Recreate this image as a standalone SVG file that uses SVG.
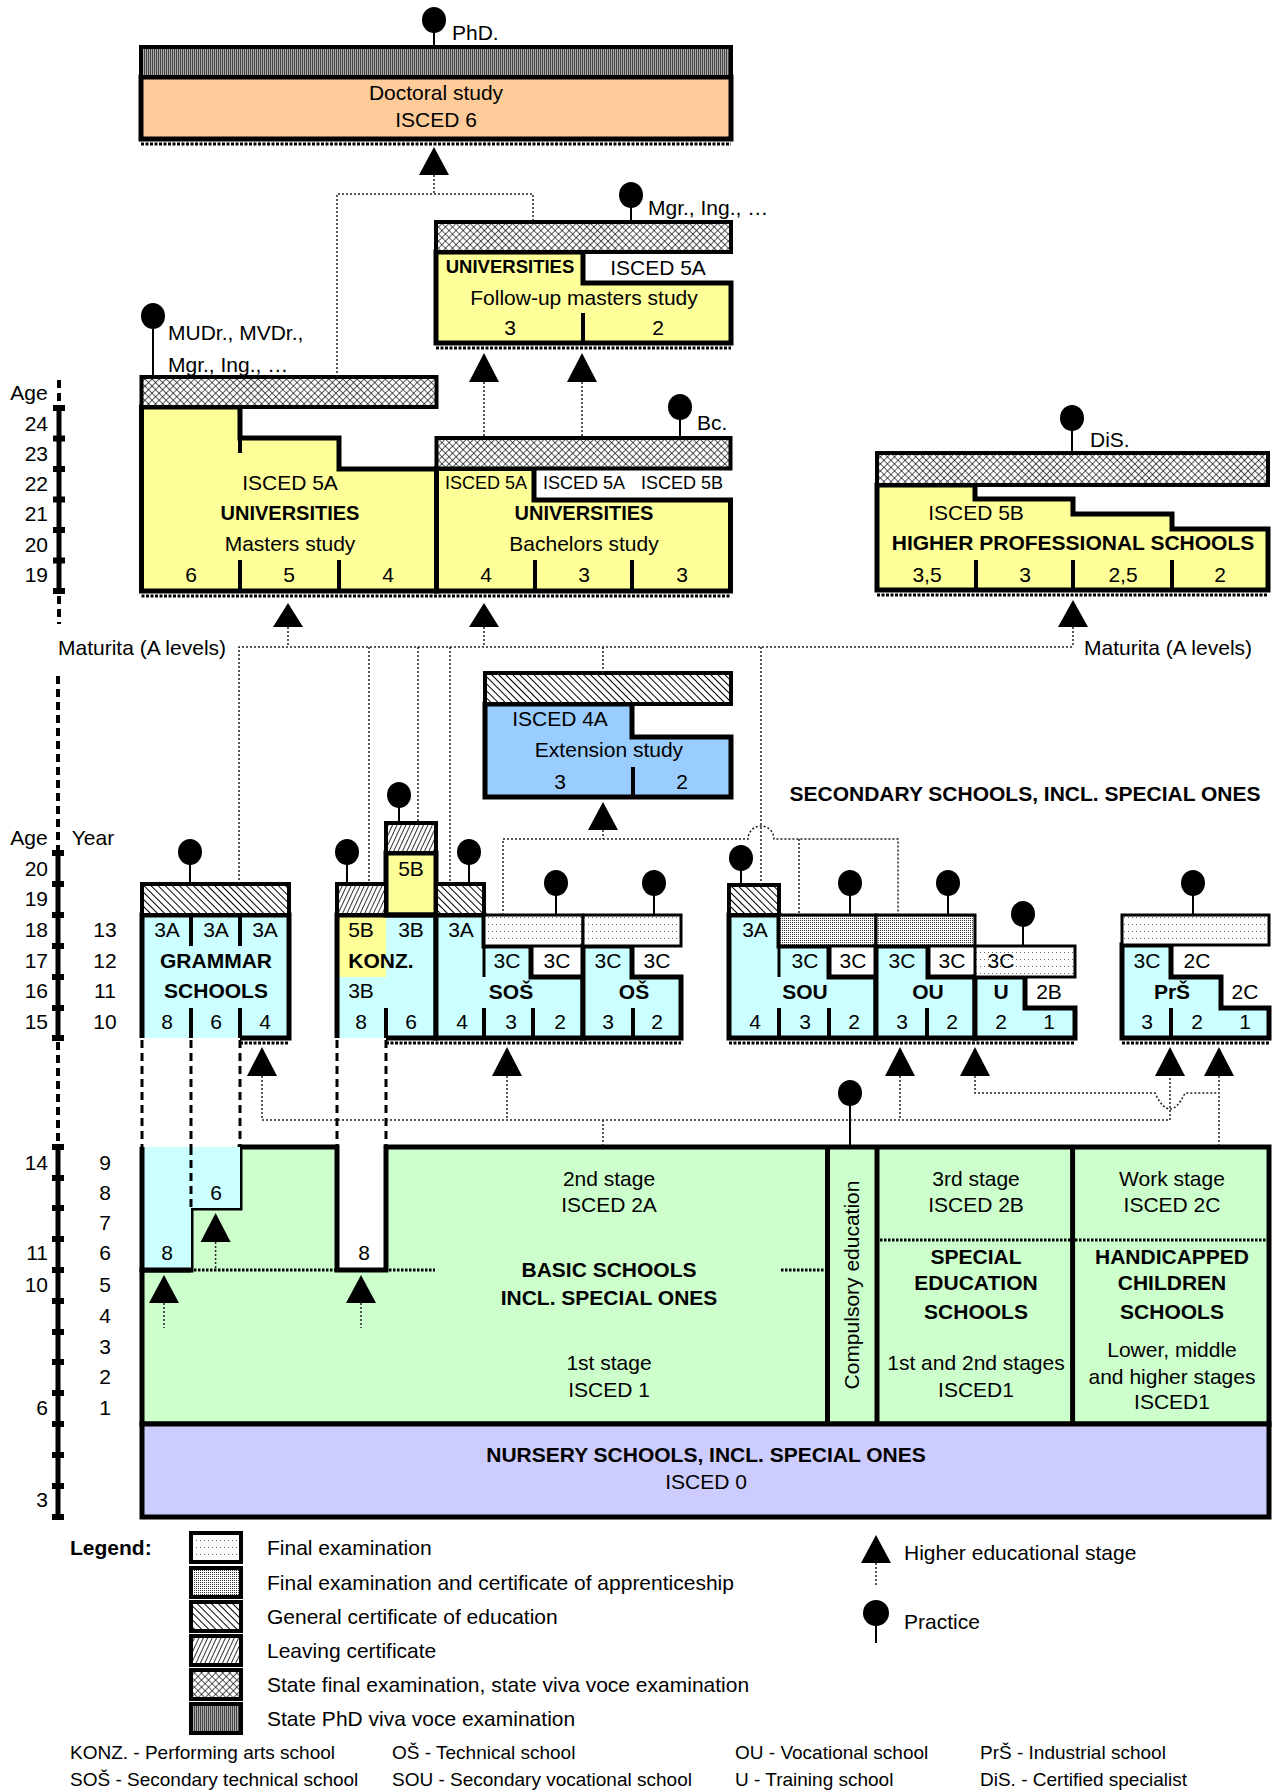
<svg xmlns="http://www.w3.org/2000/svg" width="1276" height="1791" viewBox="0 0 1276 1791">
<style>
.t{font-family:"Liberation Sans",Arial,sans-serif;font-size:21px;text-anchor:middle;fill:#000}
.s{text-anchor:start}
.e{text-anchor:end}
.b{font-weight:bold}
.sm{font-size:18px}
.ab{font-size:19px;text-anchor:start}
.box{stroke:#000;stroke-width:5;stroke-linejoin:miter}
.ol{stroke:#000;stroke-width:5;fill:none;stroke-linejoin:miter}
.hat{stroke:#000;stroke-width:4}
.ex{stroke:#000;stroke-width:3}
.dv{stroke:#000;stroke-width:4}
.dv3{stroke:#000;stroke-width:3}
.sh{stroke:#000;stroke-width:3;stroke-dasharray:3 1.5}
.dash{stroke:#000;stroke-width:3;stroke-dasharray:8 5;fill:none}
.bnd{stroke:#000;stroke-width:3;stroke-dasharray:2.5 1.5;fill:none}
.con{stroke:#222;stroke-width:1.5;stroke-dasharray:2 2;fill:none}
.stalk{stroke:#000;stroke-width:2}
.axis{stroke:#000;stroke-width:5}
.axd{stroke:#000;stroke-width:4;stroke-dasharray:8 5}
</style>
<defs>
<pattern id="pFinal" width="4" height="7" patternUnits="userSpaceOnUse"><rect width="4" height="7" fill="#fff"/><rect width="1" height="1" fill="#666"/></pattern>
<pattern id="pAppr" width="2" height="2" patternUnits="userSpaceOnUse"><rect width="2" height="2" fill="#fff"/><rect width="1" height="1" fill="#333"/></pattern>
<pattern id="pGen" width="5" height="5" patternUnits="userSpaceOnUse" patternTransform="rotate(-45)"><rect width="5" height="5" fill="#fff"/><line x1="0" y1="0" x2="0" y2="5" stroke="#000" stroke-width="2"/></pattern>
<pattern id="pLeave" width="4" height="4" patternUnits="userSpaceOnUse" patternTransform="rotate(25)"><rect width="4" height="4" fill="#fff"/><line x1="0" y1="0" x2="0" y2="4" stroke="#000" stroke-width="1.6"/></pattern>
<pattern id="pState" width="5" height="5" patternUnits="userSpaceOnUse" patternTransform="rotate(45)"><rect width="5" height="5" fill="#fff"/><line x1="0" y1="0" x2="0" y2="5" stroke="#000" stroke-width="1.3"/><line x1="0" y1="0" x2="5" y2="0" stroke="#000" stroke-width="1.3"/></pattern>
<pattern id="pPhd" width="2" height="2" patternUnits="userSpaceOnUse"><rect width="2" height="2" fill="#aaa"/><rect width="1" height="2" fill="#444"/></pattern>
</defs>
<rect width="1276" height="1791" fill="#fff"/>

<!-- axes -->
<g id="axes">
<text class="t" x="29" y="400">Age</text>
<line class="axd" x1="59" y1="380" x2="59" y2="405"/>
<line class="axis" x1="59" y1="408" x2="59" y2="591"/>
<line class="axd" x1="59" y1="596" x2="59" y2="624"/>
<g fill="#000"><rect x="53" y="405" width="12" height="6"/><rect x="53" y="435.5" width="12" height="6"/><rect x="53" y="466" width="12" height="6"/><rect x="53" y="496.5" width="12" height="6"/><rect x="53" y="527" width="12" height="6"/><rect x="53" y="557.5" width="12" height="6"/><rect x="53" y="588" width="12" height="6"/></g>
<text class="t e" x="48" y="431">24</text><text class="t e" x="48" y="461">23</text><text class="t e" x="48" y="491">22</text><text class="t e" x="48" y="521">21</text><text class="t e" x="48" y="552">20</text><text class="t e" x="48" y="582">19</text>

<text class="t" x="29" y="845">Age</text>
<text class="t" x="93" y="845">Year</text>
<line class="axd" x1="58" y1="676" x2="58" y2="850"/>
<line class="axis" x1="58" y1="853" x2="58" y2="1038"/>
<line class="axd" x1="58" y1="1042" x2="58" y2="1145"/>
<g fill="#000"><rect x="52" y="850" width="12" height="6"/><rect x="52" y="881" width="12" height="6"/><rect x="52" y="912" width="12" height="6"/><rect x="52" y="943" width="12" height="6"/><rect x="52" y="974" width="12" height="6"/><rect x="52" y="1005" width="12" height="6"/><rect x="52" y="1035" width="12" height="6"/></g>
<text class="t e" x="48" y="876">20</text><text class="t e" x="48" y="906">19</text><text class="t e" x="48" y="937">18</text><text class="t e" x="48" y="968">17</text><text class="t e" x="48" y="998">16</text><text class="t e" x="48" y="1029">15</text>
<text class="t" x="105" y="937">13</text><text class="t" x="105" y="968">12</text><text class="t" x="105" y="998">11</text><text class="t" x="105" y="1029">10</text>

<line class="axis" x1="58" y1="1147" x2="58" y2="1517"/>
<g fill="#000"><rect x="52" y="1144" width="12" height="6"/><rect x="52" y="1175" width="12" height="6"/><rect x="52" y="1205" width="12" height="6"/><rect x="52" y="1236" width="12" height="6"/><rect x="52" y="1267" width="12" height="6"/><rect x="52" y="1298" width="12" height="6"/><rect x="52" y="1329" width="12" height="6"/><rect x="52" y="1359" width="12" height="6"/><rect x="52" y="1390" width="12" height="6"/><rect x="52" y="1421" width="12" height="6"/><rect x="52" y="1452" width="12" height="6"/><rect x="52" y="1483" width="12" height="6"/><rect x="52" y="1514" width="12" height="6"/></g>
<text class="t e" x="48" y="1170">14</text><text class="t e" x="48" y="1260">11</text><text class="t e" x="48" y="1292">10</text><text class="t e" x="48" y="1415">6</text><text class="t e" x="48" y="1507">3</text>
<text class="t" x="105" y="1170">9</text><text class="t" x="105" y="1200">8</text><text class="t" x="105" y="1230">7</text><text class="t" x="105" y="1260">6</text><text class="t" x="105" y="1292">5</text><text class="t" x="105" y="1323">4</text><text class="t" x="105" y="1354">3</text><text class="t" x="105" y="1384">2</text><text class="t" x="105" y="1415">1</text>
</g>

<!-- doctoral -->
<g id="doctoral">
<rect x="141" y="77" width="590" height="62" fill="#FFCC99" class="box"/>
<rect x="141" y="47" width="590" height="30" fill="url(#pPhd)" class="hat"/>
<line class="sh" x1="141" y1="144" x2="731" y2="144"/>
<text class="t" x="436" y="100">Doctoral study</text>
<text class="t" x="436" y="127">ISCED 6</text>
<ellipse cx="434" cy="20" rx="12" ry="13"/>
<line class="stalk" x1="434" y1="30" x2="434" y2="47"/>
<text class="t s" x="452" y="40">PhD.</text>
</g>

<!-- follow-up masters -->
<g id="followup">
<path d="M436,252 H583 V283 H731 V343 H436 Z" fill="#FFFF99" class="box"/>
<rect x="436" y="222" width="295" height="30" fill="url(#pState)" class="hat"/>
<line class="dv" x1="583" y1="313" x2="583" y2="343"/>
<line class="sh" x1="436" y1="348" x2="731" y2="348"/>
<text class="t b" style="font-size:18.5px" x="510" y="273">UNIVERSITIES</text>
<text class="t" x="658" y="275">ISCED 5A</text>
<text class="t" x="584" y="305">Follow-up masters study</text>
<text class="t" x="510" y="335">3</text>
<text class="t" x="658" y="335">2</text>
<ellipse cx="631" cy="195" rx="12" ry="13"/>
<line class="stalk" x1="631" y1="205" x2="631" y2="222"/>
<text class="t s" x="648" y="215">Mgr., Ing., …</text>
</g>

<!-- masters -->
<g id="masters">
<path d="M141.5,407 H240 V438 H339 V469 H436.5 V591 H141.5 Z" fill="#FFFF99" class="box"/>
<rect x="141.5" y="377" width="295" height="30" fill="url(#pState)" class="hat"/>
<line class="dv" x1="240" y1="560" x2="240" y2="591"/>
<line class="dv" x1="339" y1="560" x2="339" y2="591"/>
<line class="dv" x1="240" y1="438" x2="240" y2="453"/>
<text class="t" x="290" y="490">ISCED 5A</text>
<text class="t b" style="font-size:20px" x="290" y="520">UNIVERSITIES</text>
<text class="t" x="290" y="551">Masters study</text>
<text class="t" x="191" y="582">6</text><text class="t" x="289" y="582">5</text><text class="t" x="388" y="582">4</text>
<ellipse cx="153" cy="316" rx="12" ry="13"/>
<line class="stalk" x1="153" y1="326" x2="153" y2="377"/>
<text class="t s" x="168" y="340">MUDr., MVDr.,</text>
<text class="t s" x="168" y="372">Mgr., Ing., …</text>
</g>

<!-- bachelors -->
<g id="bachelors">
<path d="M436.5,468.5 H534 V500 H730.5 V591 H436.5 Z" fill="#FFFF99" class="box"/>
<rect x="436.5" y="438" width="294" height="30.5" fill="url(#pState)" class="hat"/>
<line class="dv" x1="535" y1="560" x2="535" y2="591"/>
<line class="dv" x1="632" y1="560" x2="632" y2="591"/>
<line class="sh" x1="141.5" y1="596" x2="730.5" y2="596"/>
<text class="t sm" x="486" y="489">ISCED 5A</text>
<text class="t sm" x="584" y="489">ISCED 5A</text>
<text class="t sm" x="682" y="489">ISCED 5B</text>
<text class="t b" style="font-size:20px" x="584" y="520">UNIVERSITIES</text>
<text class="t" x="584" y="551">Bachelors study</text>
<text class="t" x="486" y="582">4</text><text class="t" x="584" y="582">3</text><text class="t" x="682" y="582">3</text>
<ellipse cx="680" cy="407" rx="12" ry="13"/>
<line class="stalk" x1="680" y1="417" x2="680" y2="438"/>
<text class="t s" x="697" y="430">Bc.</text>
</g>

<!-- higher professional schools -->
<g id="hps">
<path d="M877,485 H975 V499 H1073 V514 H1172 V529 H1268 V590 H877 Z" fill="#FFFF99" class="box"/>
<rect x="877" y="453" width="391" height="32" fill="url(#pState)" class="hat"/>
<line class="dv" x1="976" y1="560" x2="976" y2="590"/>
<line class="dv" x1="1073" y1="560" x2="1073" y2="590"/>
<line class="dv" x1="1172" y1="560" x2="1172" y2="590"/>
<line class="sh" x1="877" y1="595" x2="1268" y2="595"/>
<text class="t" x="976" y="520">ISCED 5B</text>
<text class="t b" x="1073" y="550">HIGHER PROFESSIONAL SCHOOLS</text>
<text class="t" x="927" y="582">3,5</text><text class="t" x="1025" y="582">3</text><text class="t" x="1123" y="582">2,5</text><text class="t" x="1220" y="582">2</text>
<ellipse cx="1072" cy="418" rx="12" ry="13"/>
<line class="stalk" x1="1072" y1="428" x2="1072" y2="453"/>
<text class="t s" x="1090" y="447">DiS.</text>
</g>

<!-- extension study -->
<g id="extension">
<path d="M485,704 H632 V737 H731 V797 H485 Z" fill="#99CCFF" class="box"/>
<rect x="485" y="673" width="246" height="31" fill="url(#pGen)" class="hat"/>
<line class="dv" x1="633" y1="767" x2="633" y2="797"/>
<text class="t" x="560" y="726">ISCED 4A</text>
<text class="t" x="609" y="757">Extension study</text>
<text class="t" x="560" y="789">3</text><text class="t" x="682" y="789">2</text>
</g>

<text class="t b" x="1025" y="801">SECONDARY SCHOOLS, INCL. SPECIAL ONES</text>

<!-- grammar -->
<g id="grammar">
<rect x="142" y="915" width="147" height="123" fill="#CCFFFF"/>
<path class="ol" d="M142,1038 V915 H289 V1038 H240"/>
<rect x="142" y="884" width="147" height="31" fill="url(#pGen)" class="hat"/>
<line class="dv" x1="191" y1="915" x2="191" y2="946"/><line class="dv" x1="240" y1="915" x2="240" y2="946"/>
<line class="dv" x1="191" y1="1008" x2="191" y2="1038"/><line class="dv" x1="240" y1="1008" x2="240" y2="1038"/>
<line class="sh" x1="240" y1="1043" x2="289" y2="1043"/>
<text class="t" x="167" y="937">3A</text><text class="t" x="216" y="937">3A</text><text class="t" x="265" y="937">3A</text>
<text class="t b" x="216" y="968">GRAMMAR</text>
<text class="t b" x="216" y="998">SCHOOLS</text>
<text class="t" x="167" y="1029">8</text><text class="t" x="216" y="1029">6</text><text class="t" x="265" y="1029">4</text>
<ellipse cx="190" cy="852" rx="12" ry="13"/>
<line class="stalk" x1="190" y1="862" x2="190" y2="884"/>
</g>

<!-- konzervatory -->
<g id="konz">
<rect x="337" y="915" width="49" height="62" fill="#FFFF99"/>
<rect x="337" y="977" width="49" height="61" fill="#CCFFFF"/>
<rect x="386" y="915" width="50" height="123" fill="#CCFFFF"/>
<rect x="386" y="853" width="50" height="62" fill="#FFFF99" class="box"/>
<path class="ol" d="M337,1038 V915 H436 V1038 H386"/>
<rect x="337" y="884" width="49" height="31" fill="url(#pLeave)" class="hat"/>
<rect x="386" y="823" width="50" height="30" fill="url(#pLeave)" class="hat"/>
<line class="dv" x1="386" y1="1008" x2="386" y2="1038"/>
<text class="t" x="411" y="876">5B</text>
<text class="t" x="361" y="937">5B</text><text class="t" x="411" y="937">3B</text>
<text class="t b" x="381" y="968">KONZ.</text>
<text class="t" x="361" y="998">3B</text>
<text class="t" x="361" y="1029">8</text><text class="t" x="411" y="1029">6</text>
<ellipse cx="347" cy="852" rx="12" ry="13"/>
<line class="stalk" x1="347" y1="862" x2="347" y2="884"/>
<ellipse cx="399" cy="795" rx="12" ry="13"/>
<line class="stalk" x1="399" y1="805" x2="399" y2="823"/>
</g>

<!-- SOS -->
<g id="sos">
<path d="M436,915 H484 V946 H531 V977 H583 V1038 H436 Z" fill="#CCFFFF" class="box"/>
<rect x="436" y="884" width="48" height="31" fill="url(#pGen)" class="hat"/>
<rect x="484" y="915" width="99" height="31" fill="url(#pFinal)" class="ex"/>
<line class="dv3" x1="484" y1="946" x2="484" y2="977"/>
<line class="dv" x1="484" y1="1008" x2="484" y2="1038"/><line class="dv" x1="533" y1="1008" x2="533" y2="1038"/>
<text class="t" x="461" y="937">3A</text>
<text class="t" x="507" y="968">3C</text><text class="t" x="557" y="968">3C</text>
<text class="t b" x="511" y="999">SOŠ</text>
<text class="t" x="462" y="1029">4</text><text class="t" x="511" y="1029">3</text><text class="t" x="560" y="1029">2</text>
<ellipse cx="469" cy="852" rx="12" ry="13"/>
<line class="stalk" x1="469" y1="862" x2="469" y2="884"/>
<ellipse cx="556" cy="883" rx="12" ry="13"/>
<line class="stalk" x1="556" y1="893" x2="556" y2="915"/>
</g>

<!-- OS -->
<g id="os">
<path d="M583,946 H632 V977 H681 V1038 H583 Z" fill="#CCFFFF" class="box"/>
<rect x="583" y="915" width="98" height="31" fill="url(#pFinal)" class="ex"/>
<line class="dv" x1="633" y1="1008" x2="633" y2="1038"/>
<line class="sh" x1="386" y1="1043" x2="681" y2="1043"/>
<text class="t" x="608" y="968">3C</text><text class="t" x="657" y="968">3C</text>
<text class="t b" x="634" y="999">OŠ</text>
<text class="t" x="608" y="1029">3</text><text class="t" x="657" y="1029">2</text>
<ellipse cx="654" cy="883" rx="12" ry="13"/>
<line class="stalk" x1="654" y1="893" x2="654" y2="915"/>
</g>

<!-- SOU -->
<g id="sou">
<path d="M729,915 H779 V946 H829 V977 H876 V1038 H729 Z" fill="#CCFFFF" class="box"/>
<rect x="729" y="885" width="50" height="30" fill="url(#pGen)" class="hat"/>
<rect x="779" y="915" width="97" height="31" fill="url(#pAppr)" class="ex"/>
<line class="dv3" x1="779" y1="946" x2="779" y2="977"/>
<line class="dv" x1="779" y1="1008" x2="779" y2="1038"/><line class="dv" x1="829" y1="1008" x2="829" y2="1038"/>
<text class="t" x="755" y="937">3A</text>
<text class="t" x="805" y="968">3C</text><text class="t" x="853" y="968">3C</text>
<text class="t b" x="805" y="999">SOU</text>
<text class="t" x="755" y="1029">4</text><text class="t" x="805" y="1029">3</text><text class="t" x="854" y="1029">2</text>
<ellipse cx="741" cy="858" rx="12" ry="13"/>
<line class="stalk" x1="741" y1="868" x2="741" y2="885"/>
<ellipse cx="850" cy="883" rx="12" ry="13"/>
<line class="stalk" x1="850" y1="893" x2="850" y2="915"/>
</g>

<!-- OU -->
<g id="ou">
<path d="M876,946 H928 V977 H975 V1038 H876 Z" fill="#CCFFFF" class="box"/>
<rect x="876" y="915" width="99" height="31" fill="url(#pAppr)" class="ex"/>
<line class="dv" x1="927" y1="1008" x2="927" y2="1038"/>
<text class="t" x="902" y="968">3C</text><text class="t" x="952" y="968">3C</text>
<text class="t b" x="928" y="999">OU</text>
<text class="t" x="902" y="1029">3</text><text class="t" x="952" y="1029">2</text>
<ellipse cx="948" cy="883" rx="12" ry="13"/>
<line class="stalk" x1="948" y1="893" x2="948" y2="915"/>
</g>

<!-- U -->
<g id="u">
<path d="M975,977 H1025 V1008 H1075 V1038 H975 Z" fill="#CCFFFF" class="box"/>
<rect x="975" y="946" width="100" height="31" fill="url(#pFinal)" class="ex"/>
<line class="sh" x1="729" y1="1043" x2="1075" y2="1043"/>
<text class="t" x="1001" y="968">3C</text>
<text class="t b" x="1001" y="999">U</text>
<text class="t" x="1049" y="999">2B</text>
<text class="t" x="1001" y="1029">2</text><text class="t" x="1049" y="1029">1</text>
<ellipse cx="1023" cy="914" rx="12" ry="13"/>
<line class="stalk" x1="1023" y1="924" x2="1023" y2="946"/>
</g>

<!-- PrS -->
<g id="prs">
<path d="M1122,945 H1171 V977 H1221 V1008 H1269 V1038 H1122 Z" fill="#CCFFFF" class="box"/>
<rect x="1122" y="915" width="147" height="30" fill="url(#pFinal)" class="ex"/>
<line class="dv" x1="1171" y1="1008" x2="1171" y2="1038"/>
<line class="sh" x1="1122" y1="1043" x2="1269" y2="1043"/>
<text class="t" x="1147" y="968">3C</text><text class="t" x="1197" y="968">2C</text>
<text class="t b" x="1172" y="999">PrŠ</text>
<text class="t" x="1245" y="999">2C</text>
<text class="t" x="1147" y="1029">3</text><text class="t" x="1197" y="1029">2</text><text class="t" x="1245" y="1029">1</text>
<ellipse cx="1193" cy="883" rx="12" ry="13"/>
<line class="stalk" x1="1193" y1="893" x2="1193" y2="915"/>
</g>

<!-- dashed continuation lines -->
<g id="continuations">
<path class="dash" d="M142,1040 V1147 M191,1040 V1147 M240,1040 V1147 M337,1040 V1147 M386,1040 V1147"/>
</g>

<!-- basic schools -->
<g id="basic">
<path d="M142,1270 H191 V1208 H240 V1147 H337 V1270 H386 V1147 H1269 V1424 H142 Z" fill="#CCFFCC" class="box"/>
<rect x="142" y="1147" width="49" height="123" fill="#CCFFFF"/>
<rect x="191" y="1147" width="49" height="61" fill="#CCFFFF"/>
<path class="ol" d="M142,1147 V1270 H191"/>
<path class="dash" d="M191,1147 V1208"/>
<path class="bnd" d="M194,1270 H335 M389,1270 H435 M781,1270 H825"/>
<text class="t" x="167" y="1260">8</text>
<text class="t" x="216" y="1200">6</text>
<text class="t" x="364" y="1260">8</text>
<text class="t" x="609" y="1186">2nd stage</text>
<text class="t" x="609" y="1212">ISCED 2A</text>
<text class="t b" x="609" y="1277">BASIC SCHOOLS</text>
<text class="t b" x="609" y="1305">INCL. SPECIAL ONES</text>
<text class="t" x="609" y="1370">1st stage</text>
<text class="t" x="609" y="1397">ISCED 1</text>
</g>

<g id="compulsory">
<line class="dv" x1="827.5" y1="1147" x2="827.5" y2="1424" style="stroke-width:5"/>
<line class="dv" x1="877" y1="1147" x2="877" y2="1424" style="stroke-width:5"/>
<text class="t" transform="translate(859,1285) rotate(-90)" x="0" y="0">Compulsory education</text>
<ellipse cx="850" cy="1093" rx="12" ry="13"/>
<line class="stalk" x1="850" y1="1103" x2="850" y2="1147"/>
</g>

<g id="special">
<path class="bnd" d="M880,1240 H1070"/>
<text class="t" x="976" y="1186">3rd stage</text>
<text class="t" x="976" y="1212">ISCED 2B</text>
<text class="t b" x="976" y="1264">SPECIAL</text>
<text class="t b" x="976" y="1290">EDUCATION</text>
<text class="t b" x="976" y="1319">SCHOOLS</text>
<text class="t" x="976" y="1370">1st and 2nd stages</text>
<text class="t" x="976" y="1397">ISCED1</text>
</g>

<g id="handicapped">
<line class="dv" x1="1072.6" y1="1147" x2="1072.6" y2="1424" style="stroke-width:5"/>
<path class="bnd" d="M1075,1240 H1267"/>
<text class="t" x="1172" y="1186">Work stage</text>
<text class="t" x="1172" y="1212">ISCED 2C</text>
<text class="t b" x="1172" y="1264">HANDICAPPED</text>
<text class="t b" x="1172" y="1290">CHILDREN</text>
<text class="t b" x="1172" y="1319">SCHOOLS</text>
<text class="t" x="1172" y="1357">Lower, middle</text>
<text class="t" x="1172" y="1384">and higher stages</text>
<text class="t" x="1172" y="1409">ISCED1</text>
</g>

<g id="nursery">
<rect x="142" y="1424" width="1127" height="93" fill="#CCCCFF" class="box"/>
<text class="t b" x="706" y="1462">NURSERY SCHOOLS, INCL. SPECIAL ONES</text>
<text class="t" x="706" y="1489">ISCED 0</text>
</g>

<!-- connectors -->
<g id="connectors">
<path class="con" d="M434,175 V194 M337,377 V194 H533 V222"/>
<path class="con" d="M484,382 V438 M582,382 V438"/>
<path class="con" d="M288,627 V647 M484,627 V647 M1073,627 V647"/>
<path class="con" d="M239,884 V647 H1073"/>
<path class="con" d="M369,647 V884 M418,647 V823 M450,647 V884 M603,647 V673 M761,647 V885"/>
<path class="con" d="M603,830 V839 M503,915 V839 H748 A13,13 0 0 1 774,839 H898 V915 M799,839 V915"/>
<path class="con" d="M262,1076 V1120 H1170 V1076 M507,1076 V1120 M900,1076 V1120 M603,1120 V1145"/>
<path class="con" d="M975,1076 V1093 H1155 Q1170,1125 1185,1093 H1219 M1219,1076 V1145"/>
<path class="con" d="M164,1303 V1328 M215.6,1242 V1268 M361,1303 V1328"/>
<g fill="#000">
<path d="M434,147 L449,175 L419,175 Z"/>
<path d="M484,353 L499,382 L469,382 Z"/>
<path d="M582,353 L597,382 L567,382 Z"/>
<path d="M288,603 L303,627 L273,627 Z"/>
<path d="M484,603 L499,627 L469,627 Z"/>
<path d="M1073,600 L1088,627 L1058,627 Z"/>
<path d="M603,802 L618,830 L588,830 Z"/>
<path d="M262,1047 L277,1076 L247,1076 Z"/>
<path d="M507,1047 L522,1076 L492,1076 Z"/>
<path d="M900,1047 L915,1076 L885,1076 Z"/>
<path d="M975,1047 L990,1076 L960,1076 Z"/>
<path d="M1170,1047 L1185,1076 L1155,1076 Z"/>
<path d="M1219,1047 L1234,1076 L1204,1076 Z"/>
<path d="M164,1275 L179,1303 L149,1303 Z"/>
<path d="M215.6,1213 L230.6,1242 L200.6,1242 Z"/>
<path d="M361,1275 L376,1303 L346,1303 Z"/>
</g>
<text class="t s" x="58" y="655">Maturita (A levels)</text>
<text class="t s" x="1084" y="655">Maturita (A levels)</text>
</g>

<!-- legend -->
<g id="legend">
<text class="t b s" x="70" y="1555">Legend:</text>
<rect x="191" y="1533" width="50" height="29" fill="url(#pFinal)" class="hat"/>
<rect x="191" y="1568" width="50" height="29" fill="url(#pAppr)" class="hat"/>
<rect x="191" y="1602" width="50" height="29" fill="url(#pGen)" class="hat"/>
<rect x="191" y="1636" width="50" height="29" fill="url(#pLeave)" class="hat"/>
<rect x="191" y="1670" width="50" height="29" fill="url(#pState)" class="hat"/>
<rect x="191" y="1704" width="50" height="29" fill="url(#pPhd)" class="hat"/>
<text class="t s" x="267" y="1555">Final examination</text>
<text class="t s" x="267" y="1590">Final examination and certificate of apprenticeship</text>
<text class="t s" x="267" y="1624">General certificate of education</text>
<text class="t s" x="267" y="1658">Leaving certificate</text>
<text class="t s" x="267" y="1692">State final examination, state viva voce examination</text>
<text class="t s" x="267" y="1726">State PhD viva voce examination</text>
<path d="M876,1535 L891,1563 L861,1563 Z"/>
<path class="con" d="M876,1563 V1586"/>
<text class="t s" x="904" y="1560">Higher educational stage</text>
<ellipse cx="876" cy="1613" rx="13" ry="13"/>
<line class="stalk" x1="876" y1="1624" x2="876" y2="1643"/>
<text class="t s" x="904" y="1629">Practice</text>
<text class="t ab" x="70" y="1759">KONZ. - Performing arts school</text>
<text class="t ab" x="70" y="1786">SOŠ - Secondary technical school</text>
<text class="t ab" x="392" y="1759">OŠ - Technical school</text>
<text class="t ab" x="392" y="1786">SOU - Secondary vocational school</text>
<text class="t ab" x="735" y="1759">OU - Vocational school</text>
<text class="t ab" x="735" y="1786">U - Training school</text>
<text class="t ab" x="980" y="1759">PrŠ - Industrial school</text>
<text class="t ab" x="980" y="1786">DiS. - Certified specialist</text>
</g>
</svg>
